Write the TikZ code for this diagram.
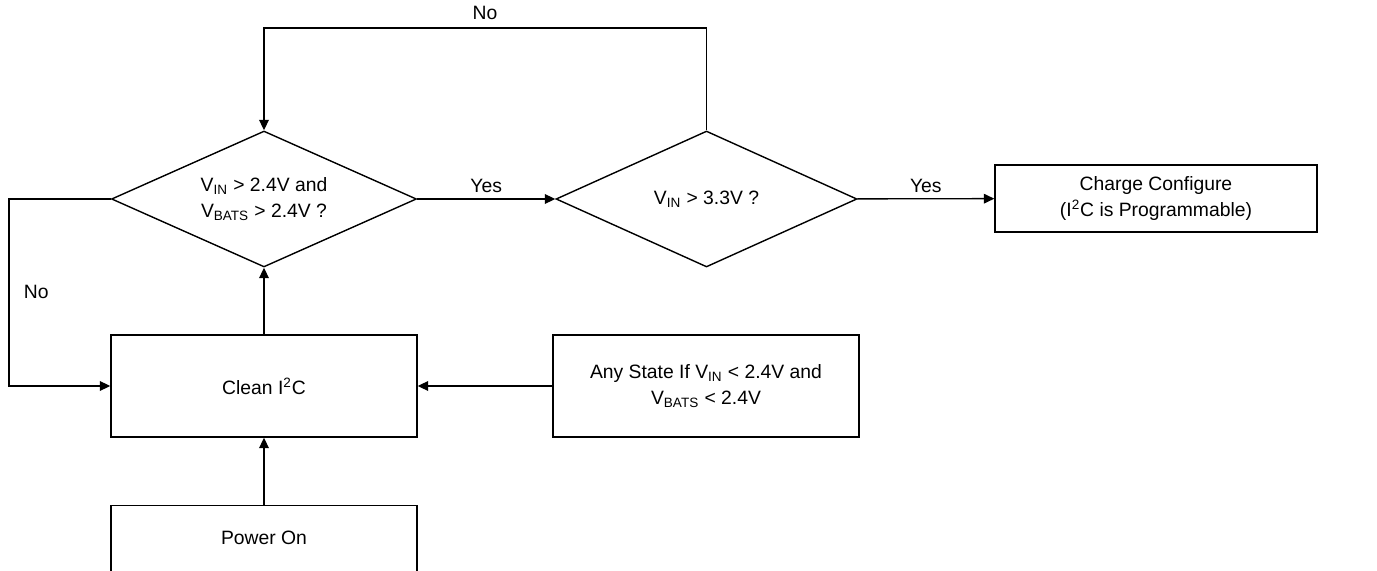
\documentclass[tikz,border=0pt]{standalone}
\usepackage{fontspec}
\setmainfont{Liberation Sans}
\usetikzlibrary{positioning,shapes.geometric,arrows.meta}

\begin{document}
\begin{tikzpicture}[x=0.02cm,y=-0.02cm,
font=\fontsize{11}{15}\selectfont,
decision/.style = {diamond, draw, line width=0.8pt, align=center, inner sep=0pt,
                   shape aspect=2.25, minimum width=6.1cm, minimum height=2.72cm},
block/.style = {rectangle, draw, line width=0.8pt, align=center,
                minimum width=6.12cm, minimum height=2.04cm},
line/.style ={draw, line width=0.8pt, -{Triangle[length=6pt,width=5.5pt]}}]

\useasboundingbox (0,0) rectangle (1377,571);

% decisions
\node [decision] (vin24) at (264,199) {V\textsubscript{IN} > 2.4V and\\V\textsubscript{BATS} > 2.4V ?};
\node [decision, minimum width=6.02cm] (vin33) at (706.5,199) {V\textsubscript{IN} > 3.3V ?};
% blocks
\node [block, minimum width=6.44cm, minimum height=1.34cm] (charge) at (1156,198.5)
      {Charge Configure\\(I\textsuperscript{2}C is Programmable)};
\node [block] (clean) at (264,386) {Clean I\textsuperscript{2}C};
\node [block] (anystate) at (706,386) {Any State If V\textsubscript{IN} < 2.4V and\\V\textsubscript{BATS} < 2.4V};
\node [block, anchor=north, minimum height=2.2cm] (power) at (264,505) {};
\node (powertext) at (264,538) {Power On};

\coordinate (topno) at (485,28);
\coordinate (leftno) at (9,292);

\begin{scope}[every path/.style=line]
\path (vin24) -- node [above] {Yes} (vin33);
\path (vin33) -- node [above] {Yes} (charge);
\path (vin33.north) |- (topno) -| (vin24.north);
\path (vin24.west) -| (leftno) |- (clean.west);
\path (clean) -- (vin24.south);
\path (anystate) -- (clean);
\path (power) -- (clean);
\end{scope}

\node [above=1pt] at (topno) {No};
\node [right=5pt] at (leftno) {No};
\end{tikzpicture}
\end{document}
